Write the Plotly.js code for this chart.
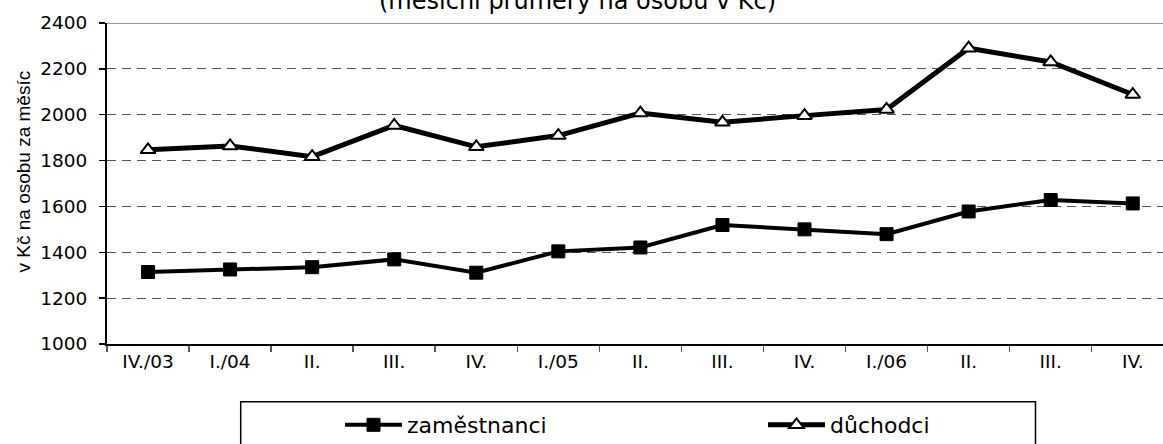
<!DOCTYPE html>
<html>
<head>
<meta charset="utf-8">
<script src="https://cdn.plot.ly/plotly-3.0.1.min.js"></script>
<style>html,body{margin:0;padding:0;background:#fff;}#chart{width:1163px;height:444px;}</style>
</head>
<body>
<div id="chart"></div>
<script>
// Data
const categories = ['IV./03','I./04','II.','III.','IV.','I./05','II.','III.','IV.','I./06','II.','III.','IV.'];
const zamestnanci = [1314, 1325, 1335, 1369, 1311, 1404, 1421, 1519, 1500, 1479, 1578, 1628, 1613];
const duchodci = [1847, 1864, 1817, 1953, 1860, 1909, 2007, 1967, 1996, 2023, 2290, 2230, 2088];
const yTicks = [1000, 1200, 1400, 1600, 1800, 2000, 2200, 2400];
const seriesNames = ['zaměstnanci', 'důchodci'];
const titleLine = '(měsíční průměry na osobu v Kč)';
const yTitle = 'v Kč na osobu za měsíc';

const xIdx = categories.map((_, i) => i);

const W = 1163, H = 444;
const mL = 107, mR = 0, mT = 23, mB = 100;
const plotW = W - mL - mR, plotH = H - mT - mB;
const px2x = p => (p - mL) / plotW;
const px2y = p => (H - mB - p) / plotH;

const font = 'DejaVu Sans, Liberation Sans, Arial, sans-serif';

const traces = [
  {
    x: xIdx, y: zamestnanci, name: seriesNames[0], type: 'scatter', mode: 'lines+markers',
    line: {color: '#000', width: 4},
    marker: {symbol: 'square', size: 13, color: '#000', line: {color: '#000', width: 1}},
    cliponaxis: false
  },
  {
    x: xIdx, y: duchodci, name: seriesNames[1], type: 'scatter', mode: 'lines+markers',
    line: {color: '#000', width: 5},
    marker: {symbol: 'triangle-up', size: 13, color: '#fff', line: {color: '#000', width: 2}},
    cliponaxis: false
  }
];

const layout = {
  width: W, height: H,
  margin: {l: mL, r: mR, t: mT, b: mB, pad: 0, autoexpand: false},
  paper_bgcolor: '#fff', plot_bgcolor: '#fff',
  font: {family: font, color: '#000'},
  showlegend: true,
  legend: {
    orientation: 'h', x: px2x(340), xanchor: 'left', y: px2y(404), yanchor: 'top',
    bgcolor: 'rgba(0,0,0,0)', borderwidth: 0,
    font: {family: font, size: 22, color: '#000'},
    itemwidth: 57, entrywidth: 351, entrywidthmode: 'pixels',
    traceorder: 'normal'
  },
  xaxis: {
    range: [-0.5, -0.5 + plotW / 82.06],
    tickmode: 'array', tickvals: xIdx, ticktext: categories,
    ticks: '', showgrid: false, zeroline: false,
    showline: true, linecolor: '#000', linewidth: 2,
    tickfont: {family: font, size: 18.5, color: '#000'},
    minor: {tickmode: 'linear', tick0: 0.5, dtick: 1, ticks: 'outside', ticklen: 6, tickcolor: '#555', tickwidth: 1.5, showgrid: false},
    fixedrange: true, automargin: false
  },
  yaxis: {
    range: [1000, 2400], tickmode: 'array', tickvals: yTicks,
    ticks: 'outside', ticklen: 6, tickcolor: '#000', tickwidth: 1.5,
    showline: true, linecolor: '#000', linewidth: 2,
    showgrid: true, gridcolor: '#555', gridwidth: 1, griddash: '9px,6px',
    zeroline: false,
    tickfont: {family: font, size: 18.5, color: '#000'},
    ticklabelstandoff: 8,
    fixedrange: true, automargin: false
  },
  shapes: [
    {type: 'line', xref: 'paper', yref: 'y', x0: 0, x1: 1, y0: 2400, y1: 2400, line: {color: '#333', width: 1}},
    {type: 'rect', xref: 'paper', yref: 'paper', x0: px2x(240.7), x1: px2x(1035.5), y0: px2y(401.7), y1: px2y(470), line: {color: '#000', width: 1.5}, fillcolor: 'rgba(0,0,0,0)'}
  ],
  annotations: [
    {text: titleLine, xref: 'paper', yref: 'paper', x: px2x(577), y: px2y(7), xanchor: 'center', yanchor: 'middle', yshift: 6,
     showarrow: false, font: {family: font, size: 24, color: '#000'}},
    {text: yTitle, xref: 'paper', yref: 'paper', x: px2x(23), y: px2y(171.5), xanchor: 'center', yanchor: 'middle',
     textangle: -90, showarrow: false, font: {family: 'Liberation Sans, Arial, sans-serif', size: 19, color: '#000'}}
  ]
};

Plotly.newPlot('chart', traces, layout, {displayModeBar: false, staticPlot: true});
</script>
</body>
</html>
